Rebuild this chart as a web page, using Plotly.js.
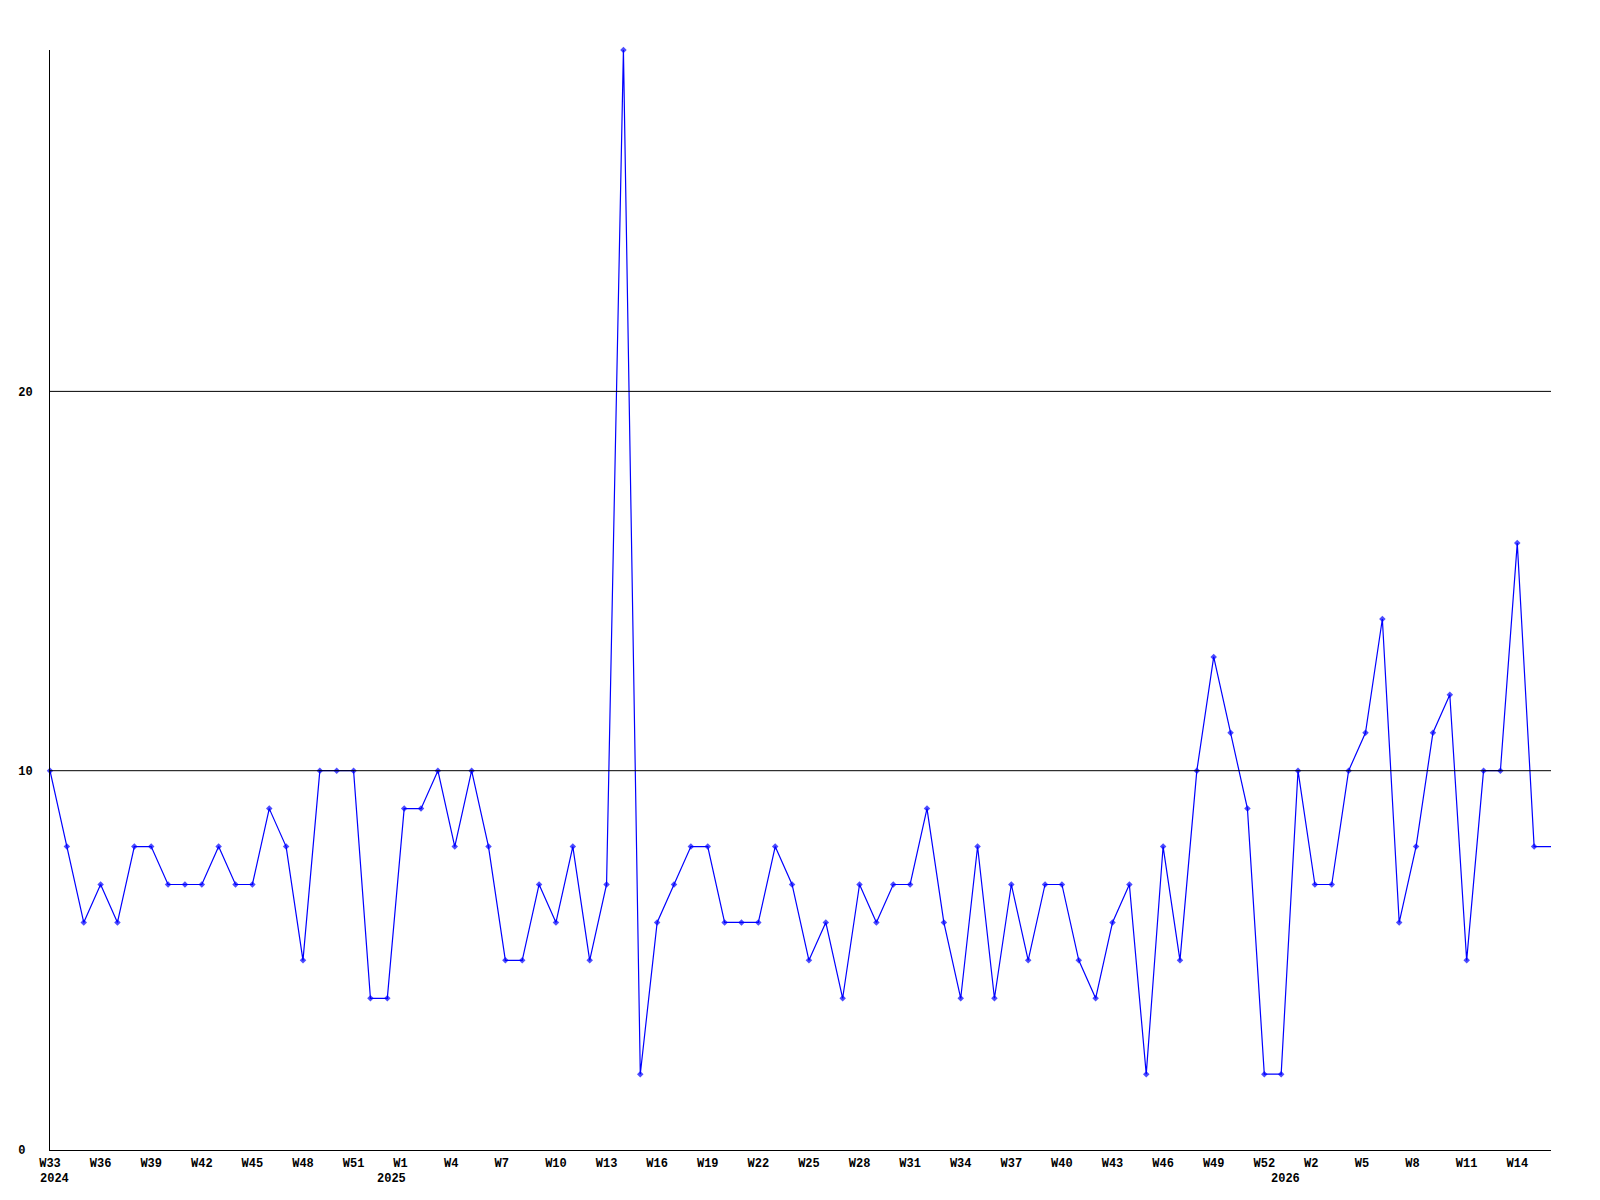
<!DOCTYPE html>
<html><head><meta charset="utf-8">
<script src="https://cdn.plot.ly/plotly-3.0.1.min.js"></script>
<style>html,body{margin:0;padding:0;background:#fff;}#chart{width:1600px;height:1200px;}</style>
</head><body><div id="chart"></div>
<script>
// Weekly counts, W33 2024 .. W15 2026 (last value = partial current week, drawn without marker)
const counts = [10, 8, 6, 7, 6, 8, 8, 7, 7, 7, 8, 7, 7, 9, 8, 5, 10, 10, 10, 4,
  4, 9, 9, 10, 8, 10, 8, 5, 5, 7, 6, 8, 5, 7, 29, 2, 6, 7, 8, 8,
  6, 6, 6, 8, 7, 5, 6, 4, 7, 6, 7, 7, 9, 6, 4, 8, 4, 7, 5, 7,
  7, 5, 4, 6, 7, 2, 8, 5, 10, 13, 11, 9, 2, 2, 10, 7, 7, 10, 11, 14,
  6, 8, 11, 12, 5, 10, 10, 16, 8, 8];
const weekTickIdx = [0, 3, 6, 9, 12, 15, 18, 21, 24, 27, 30, 33, 36, 39, 42, 45, 48, 51, 54, 57,
  60, 63, 66, 69, 72, 75, 78, 81, 84, 87];
const weekTickLabels = ['W33','W36','W39','W42','W45','W48','W51','W1','W4','W7','W10','W13','W16','W19',
  'W22','W25','W28','W31','W34','W37','W40','W43','W46','W49','W52','W2','W5','W8','W11','W14'];
const yearIdx = [0, 20, 73];
const yearLabels = ['2024', '2025', '2026'];
const yTickVals = [0, 10, 20];
const yTickLabels = ['0', '10', '20'];
const gridValues = [10, 20];

const FONT = {family: '"Liberation Mono", "DejaVu Sans Mono", monospace', size: 12, color: '#000', weight: 'bold'};
const pad3 = s => s + '\u00a0'.repeat(Math.max(0, 3 - s.length));
const padL = s => s + '\u00a0'.repeat(Math.max(0, 2 - s.length));

const xs = counts.map((_, i) => i);
const markerSizes = counts.map((_, i) => i < counts.length - 1 ? 5 : 0);

const trace = {
  type: 'scatter', mode: 'lines+markers', x: xs, y: counts,
  line: {color: '#0000ff', width: 1.2},
  marker: {color: '#0000ff', symbol: 'diamond', size: markerSizes, line: {width: 0}},
  hoverinfo: 'skip', cliponaxis: false
};

const shapes = gridValues.map(v => ({
  type: 'line', xref: 'paper', x0: 0, x1: 1, yref: 'y', y0: v, y1: v,
  line: {color: '#000', width: 1}, layer: 'above'
}));

const annotations = yearIdx.map((ix, k) => ({
  x: ix, xref: 'x', y: 0, yref: 'paper', text: yearLabels[k], showarrow: false,
  xanchor: 'left', yanchor: 'top', xshift: -12, yshift: -20, font: FONT
}));

const layout = {
  width: 1600, height: 1200,
  margin: {l: 50, r: 49, t: 50, b: 50, pad: 0},
  paper_bgcolor: '#fff', plot_bgcolor: '#fff',
  showlegend: false,
  xaxis: {
    range: [0, counts.length - 1], showgrid: false, zeroline: false,
    showline: true, linecolor: '#000', linewidth: 1,
    tickmode: 'array', tickvals: weekTickIdx, ticktext: weekTickLabels.map(pad3),
    ticks: '', tickfont: FONT, ticklabelstandoff: 2, fixedrange: true
  },
  yaxis: {
    range: [0, 29], showgrid: false, zeroline: false,
    showline: true, linecolor: '#000', linewidth: 1,
    tickmode: 'array', tickvals: yTickVals, ticktext: yTickLabels.map(padL),
    ticks: '', tickfont: FONT, ticklabelstandoff: 14, fixedrange: true
  },
  shapes: shapes,
  annotations: annotations
};

Plotly.newPlot('chart', [trace], layout, {staticPlot: true, displayModeBar: false});
</script>
</body></html>
